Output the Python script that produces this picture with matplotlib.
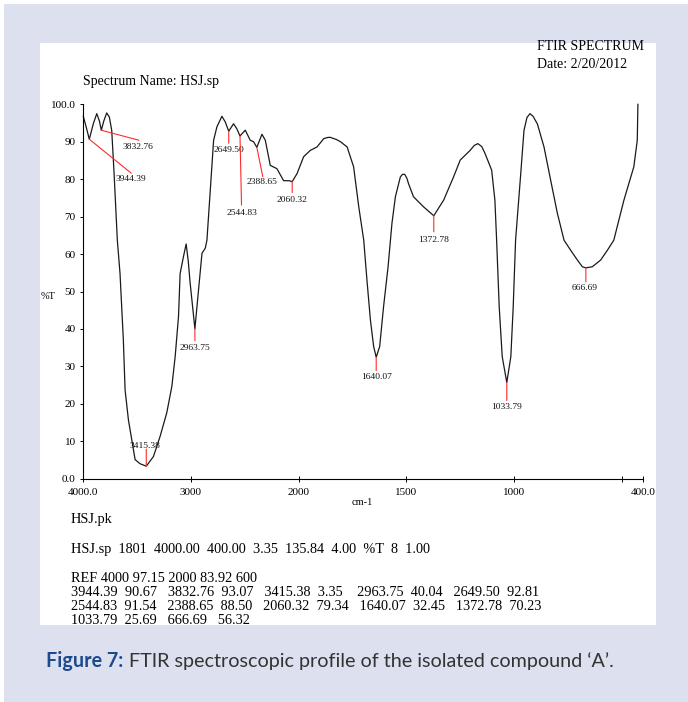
import numpy as np
import matplotlib
matplotlib.use('Agg')
import matplotlib.pyplot as plt
from matplotlib.patches import Rectangle

# spectrum (cm-1, %T)
wavenumber = [4000, 3972, 3944.39, 3907, 3875, 3850, 3832.76, 3810, 3783, 3758,
              3736, 3714, 3684, 3659, 3628, 3612, 3581, 3550, 3519, 3473,
              3415.38, 3349, 3287, 3225, 3178, 3147, 3116, 3101, 3070, 3045,
              3025, 3008, 2963.75, 2930, 2898, 2867, 2852, 2821, 2790, 2759,
              2713, 2682, 2649.50, 2605, 2575, 2544.83, 2496, 2450, 2419, 2388.65,
              2341, 2310, 2264, 2202, 2140, 2090, 2060.32, 2015, 1977, 1946,
              1915, 1884, 1869, 1855, 1825, 1806, 1775, 1745, 1721, 1698, 1683,
              1667, 1652, 1640.07, 1624, 1606, 1585, 1567, 1551, 1528, 1518, 1508,
              1498, 1490, 1467, 1420, 1372.78, 1327, 1281, 1250, 1204, 1185, 1168,
              1150, 1135, 1104, 1089, 1081, 1069, 1055, 1033.79, 1015, 1004, 993,
              969, 954, 940, 926, 912, 892, 861, 830, 799, 768, 737, 706, 683,
              666.69, 637, 598, 567, 537, 490, 444, 428, 425]
transmittance = [96.8, 93.8, 90.67, 94.8, 97.5, 95.5, 93.07, 95.5, 97.7, 96.6,
                 93.0, 81.5, 63.7, 54.8, 37.0, 23.7, 15.7, 10.4, 5.1, 4.0,
                 3.35, 5.9, 11.3, 17.6, 24.6, 32.6, 43.3, 54.8, 59.3, 62.7,
                 58.0, 52.3, 40.04, 50.4, 60.2, 61.6, 63.7, 77.0, 90.4, 94.0,
                 96.8, 95.3, 92.81, 94.8, 93.5, 91.54, 93.1, 90.4, 90.0, 88.50,
                 92.0, 90.4, 83.7, 82.8, 79.6, 79.6, 79.34, 81.5, 86.0, 87.7,
                 88.6, 90.8, 91.1, 91.2, 90.6, 90.0, 88.6, 83.3, 72.6, 63.7, 53.0,
                 42.4, 35.3, 32.45, 35.3, 45.9, 56.6, 68.2, 75.3, 80.6, 81.3, 81.3,
                 80.3, 78.8, 75.3, 72.6, 70.23, 74.4, 80.6, 85.1, 87.7, 89.0, 89.5,
                 88.7, 86.9, 82.4, 74.4, 63.7, 45.9, 32.6, 25.69, 32.6, 45.9, 63.7,
                 81.5, 93.0, 96.5, 97.5, 96.8, 94.8, 88.6, 79.7, 70.9, 63.7, 61.0, 58.4, 56.6,
                 56.32, 56.6, 58.4, 61.0, 63.7, 74.4, 83.3, 90.4, 100.0]

peak_cm = [3944.39, 3832.76, 3415.38, 2963.75, 2649.50, 2544.83,
           2388.65, 2060.32, 1640.07, 1372.78, 1033.79, 666.69]
peak_T = [90.67, 93.07, 3.35, 40.04, 92.81, 91.54,
          88.50, 79.34, 32.45, 70.23, 25.69, 56.32]

# label leader line end / text centre, pixel offsets from the peak
line_off = [(42, 34), (37.6, 10), (0, -17), (0, 12), (0, 12), (1.5, 69),
            (6, 29.5), (0, 11), (0, 13.4), (0, 16), (0, 18), (0, 14)]
text_off = [(42, 40), (36.6, 17), (-1, -20), (0, 19.5), (0, 19), (1.5, 77),
            (5, 35), (0, 18.5), (0, 20), (0, 24), (0, 24.5), (-1, 20)]

xticks = [4000, 3000, 2000, 1500, 1000, 500, 400]
xticklabels = ['4000.0', '3000', '2000', '1500', '1000', '', '400.0']
yticks = [0, 10, 20, 30, 40, 50, 60, 70, 80, 90, 100]
yticklabels = ['0.0', '10', '20', '30', '40', '50', '60', '70', '80', '90', '100.0']

W, H = 688, 702
LAV = '#dde1ef'
BLUE = '#1c4a8e'
serif = 'Liberation Serif'


def fx(px):
    return px / W


def fy(py):
    return 1 - py / H


def fwd(x):
    x = np.asarray(x, float)
    return np.where(x >= 2000, 2000 + (x - 2000) / 2.0, x)


def inv(u):
    u = np.asarray(u, float)
    return np.where(u >= 2000, 2000 + (u - 2000) * 2.0, u)


fig = plt.figure(figsize=(W / 100, H / 100), dpi=100, facecolor=LAV)
# thin white edge top/left, then the white panel
fig.add_artist(Rectangle((0, fy(4)), 1, 4 / H, transform=fig.transFigure,
                         facecolor='white', edgecolor='none', zorder=-20))
fig.add_artist(Rectangle((0, 0), 4 / W, 1, transform=fig.transFigure,
                         facecolor='white', edgecolor='none', zorder=-20))
panel = Rectangle((fx(40), fy(625)), (656 - 40) / W, (625 - 43) / H,
                  transform=fig.transFigure, facecolor='white',
                  edgecolor='none', zorder=-10)
fig.add_artist(panel)

ax = fig.add_axes([fx(83.3), fy(478.7), (643.3 - 83.3) / W, (478.7 - 104.3) / H])
ax.set_facecolor('none')
ax.set_xscale('function', functions=(fwd, inv))
ax.plot(wavenumber, transmittance, color='#1a1a1a', lw=0.9, clip_on=False,
        solid_joinstyle='round')
ax.set_xlim(4000, 400)
ax.set_ylim(0, 100)

for s in ['top', 'right']:
    ax.spines[s].set_visible(False)
for s in ['left', 'bottom']:
    ax.spines[s].set_linewidth(0.8)

ax.set_xticks(xticks)
ax.set_xticklabels(xticklabels)
ax.set_yticks(yticks)
ax.set_yticklabels(yticklabels)
ax.xaxis.set_minor_locator(matplotlib.ticker.NullLocator())
ax.tick_params(axis='both', length=2.5, width=0.7, labelsize=8, pad=3)
ax.tick_params(axis='x', direction='inout', length=4, pad=5)
for lab in ax.get_xticklabels() + ax.get_yticklabels():
    lab.set_fontfamily(serif)
for lab in ax.get_xticklabels():
    lab.set_clip_path(panel)

# peak markers
for cm, t, (lx, ly), (tx, ty) in zip(peak_cm, peak_T, line_off, text_off):
    ax.annotate('', xy=(cm, t), xytext=(lx * 0.72, -ly * 0.72),
                textcoords='offset points',
                arrowprops=dict(arrowstyle='-', color='#ff2a2a', lw=0.8,
                                shrinkA=0, shrinkB=0))
    ax.annotate(f'{cm:.2f}', xy=(cm, t), xytext=(tx * 0.72, -ty * 0.72),
                textcoords='offset points', ha='center', va='center',
                fontsize=6.8, family=serif, color='#111111')

# header texts
fig.text(fx(83.3), fy(81.7), 'Spectrum Name: HSJ.sp', family=serif, fontsize=10,
         va='center', ha='left')
fig.text(fx(536.7), fy(47), 'FTIR SPECTRUM', family=serif, fontsize=10,
         va='center', ha='left')
fig.text(fx(536.7), fy(65), 'Date: 2/20/2012', family=serif, fontsize=10,
         va='center', ha='left')
fig.text(fx(41), fy(296.7), '%T', family=serif, fontsize=7.5, va='center', ha='left')
fig.text(fx(362.5), fy(502.7), 'cm-1', family=serif, fontsize=7.5, va='center',
         ha='center')

# peak table under the plot
fig.text(fx(71), fy(520), 'HSJ.pk', family=serif, fontsize=10.3, va='center')
fig.text(fx(71), fy(549),
         'HSJ.sp  1801  4000.00  400.00  3.35  135.84  4.00  %T  8  1.00',
         family=serif, fontsize=10.3, va='center')
fig.text(fx(71), fy(579), 'REF 4000 97.15 2000 83.92 600', family=serif,
         fontsize=10.3, va='center')
row_y = [592.5, 606, 620]
row_peaks = [[0, 1, 2, 3, 4], [5, 6, 7, 8, 9], [10, 11]]
for yy, idx in zip(row_y, row_peaks):
    line = '   '.join(f'{peak_cm[i]:<7.2f}  {peak_T[i]:<5.2f}' for i in idx)
    t = fig.text(fx(71), fy(yy), line.rstrip(), family=serif, fontsize=10.3,
                 va='center')
    t.set_clip_path(panel)

# caption
cap1 = fig.text(fx(46), fy(667), 'Figure 7:', family='Lato', fontweight='bold',
                fontsize=14.2, color=BLUE, va='baseline')
fig.canvas.draw()
bb = cap1.get_window_extent()
fig.text(bb.x1 / W + 6 / W, fy(667),
         'FTIR spectroscopic profile of the isolated compound \u2018A\u2019.',
         family='Lato', fontsize=14.2, color='#333333', va='baseline')

fig.savefig('out.png', dpi=100, facecolor=LAV)
